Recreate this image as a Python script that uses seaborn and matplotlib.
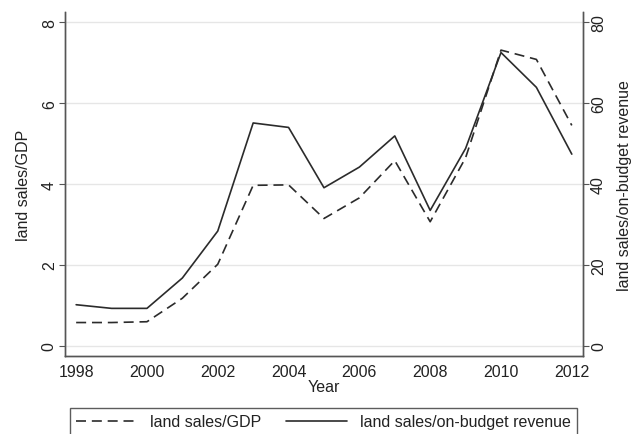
import matplotlib.pyplot as plt
import pandas as pd
import seaborn as sns
from matplotlib.lines import Line2D

years = list(range(1998, 2013))
land_sales_gdp = [0.58, 0.58, 0.60, 1.18, 2.02, 3.97, 3.98, 3.15, 3.66, 4.58, 3.07, 4.65, 7.31, 7.08, 5.45]
land_sales_budget = [10.2, 9.3, 9.3, 16.8, 28.4, 55.1, 54.0, 39.1, 44.2, 51.9, 33.5, 48.8, 72.5, 63.9, 47.4]

df = pd.DataFrame({"Year": years, "gdp": land_sales_gdp, "budget": land_sales_budget})

sns.set_style("white")
plt.rcParams['font.family'] = ['Liberation Sans', 'DejaVu Sans']
plt.rcParams['font.size'] = 11.5

line_color = "#2b2b2b"
axis_color = "#555555"
text_color = "#222222"

fig = plt.figure(figsize=(6.39, 4.35), dpi=100)
ax = fig.add_axes([0.102, 0.179, 0.81, 0.791])
ax2 = ax.twinx()

sns.lineplot(x="Year", y="gdp", data=df, ax=ax, color=line_color, linewidth=1.2,
             linestyle=(0, (6, 3.5)))
sns.lineplot(x="Year", y="budget", data=df, ax=ax2, color=line_color, linewidth=1.2)

# axes ranges and ticks
ax.set_xlim(1997.69, 2012.31)
ax.set_ylim(-0.25, 8.25)
ax2.set_ylim(-2.5, 82.5)
ax.set_xticks(range(1998, 2013, 2))
ax.set_yticks([0, 2, 4, 6, 8])
ax2.set_yticks([0, 20, 40, 60, 80])
ax.tick_params(axis="y", labelrotation=90)
ax2.tick_params(axis="y", labelrotation=90)
for t in ax.get_yticklabels() + ax2.get_yticklabels():
    t.set_va("center")

ax.yaxis.grid(True, color="#e6e6e6", linewidth=1)
ax.set_axisbelow(True)

for a in (ax, ax2):
    a.tick_params(direction="out", length=4, width=0.8, color=axis_color, labelcolor=text_color,
                  pad=2)
    for side in ("left", "bottom", "right"):
        a.spines[side].set_color(axis_color)
        a.spines[side].set_linewidth(1)
    a.spines["top"].set_visible(False)

ax.set_xlabel("Year", labelpad=0, color=text_color)
ax.set_ylabel("land sales/GDP", labelpad=8, color=text_color)
ax2.set_ylabel("land sales/on-budget revenue", rotation=90, labelpad=8, color=text_color)

# legend at the bottom, boxed
handles = [Line2D([], [], color=line_color, linewidth=1.2, linestyle=(0, (6, 3.5))),
           Line2D([], [], color=line_color, linewidth=1.2)]
leg = fig.legend(handles, ["land sales/GDP", "land sales/on-budget revenue"],
                 loc="upper left", bbox_to_anchor=(70 / 639, -0.2, 507 / 639, 0.2 + 1 - 409 / 435),
                 mode="expand", ncol=2, frameon=True, fancybox=False,
                 handlelength=3.8, borderaxespad=0, columnspacing=1.5, borderpad=0.4,
                 labelcolor=text_color)
leg.get_frame().set_edgecolor("#333333")
leg.get_frame().set_linewidth(1)

fig.savefig("out.png", dpi=100)
